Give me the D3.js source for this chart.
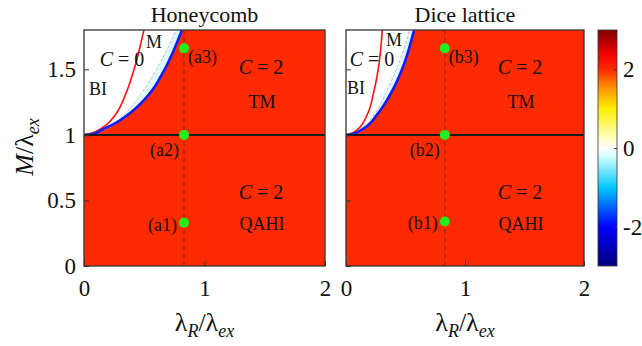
<!DOCTYPE html>
<html>
<head>
<meta charset="utf-8">
<script src="https://cdn.jsdelivr.net/npm/d3@7"></script>
<style>
	body { margin: 0; background: #fff; }
	svg text { font-family: "Liberation Serif", "Times New Roman", serif !important; fill: #111; }
</style>
</head>
<body>
<div id="chart"></div>
<script>
// Phase diagram data (x = lambda_R/lambda_ex, y = M/lambda_ex)
const panelTitles = ["Honeycomb", "Dice lattice"];
const pointTags = [["(a1)", "(a2)", "(a3)"], ["(b1)", "(b2)", "(b3)"]];

// blue phase boundary (C=2 below/right, C=0 above/left)
const honeyBlue = [[0, 1], [0.05, 1.0], [0.15, 1.04], [0.26, 1.09], [0.4, 1.18], [0.536, 1.305], [0.675, 1.51], [0.813, 1.8]];
const diceBlue = [[0, 1], [0.03, 1.0], [0.15, 1.05], [0.26, 1.154], [0.4, 1.356], [0.485, 1.533], [0.572, 1.8]];

// red curve (band gap closing inside the trivial region)
const honeyRed = [[0, 1], [0.05, 1.01], [0.149, 1.053], [0.26, 1.154], [0.343, 1.305], [0.426, 1.533], [0.497, 1.8]];
const diceRed = [[0, 1], [0.04, 1.01], [0.095, 1.04], [0.178, 1.154], [0.234, 1.33], [0.276, 1.533], [0.305, 1.8]];

// grey dashed curve bounding the metallic (M) strip
const honeyGrey = [[0.05, 1.0], [0.2, 1.05], [0.33, 1.15], [0.48, 1.32], [0.62, 1.53], [0.765, 1.8]];
const diceGrey = [[0.03, 1.0], [0.13, 1.05], [0.24, 1.16], [0.36, 1.37], [0.445, 1.55], [0.535, 1.8]];

// Chern numbers of the two phases
const chernTop = 0;
const chernBottom = 2;

// marked points along the dashed cut
const cutX = 0.83;
const honeyPointsY = [0.33, 1.0, 1.66];
const dicePointsY = [0.34, 1.0, 1.66];

const xTicks = [0, 1, 2];
const yTicks = [0, 0.5, 1, 1.5];
const cbarTicks = [-2, 0, 2];

// colormap (jet-like with white at zero)
const cmapStops = [-3, -2, -1, -0.2, 0, 0.2, 1, 1.5, 2, 2.4, 3];
const cmapColors = ["#00007f", "#0000ff", "#00c8ff", "#d9ffff", "#ffffff", "#ffffcc", "#ffee00", "#ff9900", "#ff2a00", "#f00000", "#7f0000"];

const panels = [
	{ blue: honeyBlue, red: honeyRed, grey: honeyGrey, pts: honeyPointsY, x0: 84, x1: 325 },
	{ blue: diceBlue, red: diceRed, grey: diceGrey, pts: dicePointsY, x0: 346, x1: 584 },
];

const width = 642, height = 346;
const plotTop = 30, plotBottom = 266;
const font = `"Liberation Serif", "Times New Roman", serif`;

const svg = d3.select("#chart").append("svg")
	.attr("width", width)
	.attr("height", height)
	.style("font-family", font);

const cmap = d3.scaleLinear().domain(cmapStops).range(cmapColors).clamp(true);

const yScale = d3.scaleLinear().domain([0, 1.8]).range([plotBottom, plotTop]);

// label placements (data units)
const phaseLabels = [
	[
		{ t: "M", x: 0.581, y: 1.664 },
		{ t: "BI", x: 0.116, y: 1.305 },
		{ t: "TM", x: 1.477, y: 1.206 },
		{ t: "QAHI", x: 1.477, y: 0.275 },
	],
	[
		{ t: "M", x: 0.403, y: 1.679 },
		{ t: "BI", x: 0.084, y: 1.313 },
		{ t: "TM", x: 1.47, y: 1.206 },
		{ t: "QAHI", x: 1.47, y: 0.275 },
	],
];
const chernLabels = [
	[{ c: chernTop, x: 0.315, y: 1.527 }, { c: chernBottom, x: 1.469, y: 1.466 }, { c: chernBottom, x: 1.469, y: 0.511 }],
	[{ c: chernTop, x: 0.218, y: 1.527 }, { c: chernBottom, x: 1.462, y: 1.466 }, { c: chernBottom, x: 1.462, y: 0.511 }],
];

panels.forEach((p, i) => {
	const xScale = d3.scaleLinear().domain([0, 2]).range([p.x0, p.x1]);
	const line = d3.line().x((d) => xScale(d[0])).y((d) => yScale(d[1])).curve(d3.curveMonotoneY);
	const g = svg.append("g");

	const clipId = "clip" + i;
	g.append("clipPath").attr("id", clipId)
		.append("rect")
		.attr("x", p.x0).attr("y", plotTop)
		.attr("width", p.x1 - p.x0).attr("height", plotBottom - plotTop);

	const plot = g.append("g").attr("clip-path", `url(#${clipId})`);

	// C = 0 background
	plot.append("rect")
		.attr("x", p.x0).attr("y", plotTop)
		.attr("width", p.x1 - p.x0).attr("height", plotBottom - plotTop)
		.attr("fill", cmap(chernTop));

	// metallic strip: light cyan fading to white
	const gradId = "mgrad" + i;
	const grad = g.append("defs").append("linearGradient").attr("id", gradId)
		.attr("x1", "0%").attr("x2", "100%").attr("y1", "0%").attr("y2", "0%");
	grad.append("stop").attr("offset", "0%").attr("stop-color", "#ffffff");
	grad.append("stop").attr("offset", "100%").attr("stop-color", "#d6f7fb");
	const band = p.grey.concat(p.blue.slice().reverse());
	plot.append("path")
		.attr("d", d3.line().x((d) => xScale(d[0])).y((d) => yScale(d[1]))(band) + "Z")
		.attr("fill", `url(#${gradId})`);

	// C = 2 region (below / right of blue boundary)
	const blueTop = p.blue[p.blue.length - 1];
	const region = [[0, 0]].concat(p.blue, [[2, blueTop[1]], [2, 0]]);
	plot.append("path")
		.attr("d", d3.line().x((d) => xScale(d[0])).y((d) => yScale(d[1]))(region) + "Z")
		.attr("fill", cmap(chernBottom));

	// grey dashed curve in the metallic strip
	plot.append("path")
		.attr("d", line(p.grey))
		.attr("fill", "none")
		.attr("stroke", "#b8b8b8")
		.attr("stroke-width", 0.9)
		.attr("stroke-dasharray", "3,2");

	plot.append("path")
		.attr("d", line(p.red))
		.attr("fill", "none")
		.attr("stroke", "#ff1010")
		.attr("stroke-width", 1.6);

	plot.append("path")
		.attr("d", line(p.blue))
		.attr("fill", "none")
		.attr("stroke", "#0a1eff")
		.attr("stroke-width", 2.6);

	// horizontal line M = lambda_ex
	plot.append("line")
		.attr("x1", xScale(0)).attr("x2", xScale(2))
		.attr("y1", yScale(1)).attr("y2", yScale(1))
		.attr("stroke", "#1a1a1a")
		.attr("stroke-width", 2);

	// dashed cut
	plot.append("line")
		.attr("x1", xScale(cutX)).attr("x2", xScale(cutX))
		.attr("y1", yScale(0)).attr("y2", yScale(1.8))
		.attr("stroke", "#8a2a1a")
		.attr("stroke-width", 1.1)
		.attr("stroke-dasharray", "5,3");

	// green markers
	g.selectAll("circle.pt")
		.data(p.pts)
		.join("circle")
		.attr("class", "pt")
		.attr("cx", xScale(cutX))
		.attr("cy", (d) => yScale(d))
		.attr("r", 5)
		.attr("fill", "#1ef01e");

	// marker tags: (x1) left, (x2) below-left, (x3) right
	const tagPos = [
		{ dx: -7, dy: 8, anchor: "end" },
		{ dx: -5, dy: 21, anchor: "end" },
		{ dx: 4, dy: 15, anchor: "start" },
	];
	g.selectAll("text.tag")
		.data(p.pts)
		.join("text")
		.attr("class", "tag")
		.attr("x", xScale(cutX))
		.attr("y", (d) => yScale(d))
		.attr("dx", (d, k) => tagPos[k].dx)
		.attr("dy", (d, k) => tagPos[k].dy)
		.attr("text-anchor", (d, k) => tagPos[k].anchor)
		.style("font-size", "18px")
		.text((d, k) => pointTags[i][k]);

	// phase labels
	g.selectAll("text.phase")
		.data(phaseLabels[i])
		.join("text")
		.attr("class", "phase")
		.attr("x", (d) => xScale(d.x))
		.attr("y", (d) => yScale(d.y))
		.attr("text-anchor", "middle")
		.style("font-size", "18px")
		.text((d) => d.t);

	const cl = g.selectAll("text.chern")
		.data(chernLabels[i])
		.join("text")
		.attr("class", "chern")
		.attr("x", (d) => xScale(d.x))
		.attr("y", (d) => yScale(d.y))
		.attr("text-anchor", "middle")
		.style("font-size", "20px");
	cl.append("tspan").style("font-style", "italic").text("C");
	cl.append("tspan").text((d) => " = " + d.c);

	// axes with inward ticks
	const xAxis = g.append("g")
		.attr("transform", `translate(0,${plotBottom})`)
		.call(d3.axisBottom(xScale).tickValues(xTicks).tickSize(-5).tickPadding(14).tickFormat(d3.format("d")));
	xAxis.select(".domain").remove();
	xAxis.attr("font-family", null).attr("font-size", null);
	xAxis.selectAll("text").style("font-size", "23px").attr("fill", "#111");
	xAxis.selectAll("line").attr("stroke", "#333");

	const yAxis = g.append("g")
		.attr("transform", `translate(${p.x0},0)`)
		.call(d3.axisLeft(yScale).tickValues(yTicks).tickSize(-5).tickPadding(8).tickFormat((d) => String(d)));
	yAxis.select(".domain").remove();
	yAxis.attr("font-family", null).attr("font-size", null);
	yAxis.selectAll("line").attr("stroke", "#333");
	if (i === 0) {
		yAxis.selectAll("text").style("font-size", "23px").attr("fill", "#111");
	} else {
		yAxis.selectAll("text").remove();
	}

	// frame
	g.append("rect")
		.attr("x", p.x0).attr("y", plotTop)
		.attr("width", p.x1 - p.x0).attr("height", plotBottom - plotTop)
		.attr("fill", "none")
		.attr("stroke", "#333")
		.attr("stroke-width", 1.3);

	// title
	g.append("text")
		.attr("x", (p.x0 + p.x1) / 2)
		.attr("y", 22)
		.attr("text-anchor", "middle")
		.style("font-size", "22px")
		.text(panelTitles[i]);

	// x label  lambda_R / lambda_ex
	const xl = g.append("text")
		.attr("x", (p.x0 + p.x1) / 2)
		.attr("y", 331)
		.attr("text-anchor", "middle")
		.style("font-size", "26px");
	xl.append("tspan").text("λ");
	xl.append("tspan").attr("dy", 6).style("font-size", "18px").style("font-style", "italic").text("R");
	xl.append("tspan").attr("dy", -6).text("/λ");
	xl.append("tspan").attr("dy", 6).style("font-size", "18px").style("font-style", "italic").text("ex");
});

// y label  M / lambda_ex
const yl = svg.append("text")
	.attr("transform", `translate(33,${(plotTop + plotBottom) / 2 - 1}) rotate(-90)`)
	.attr("text-anchor", "middle")
	.style("font-size", "26px");
yl.append("tspan").style("font-style", "italic").text("M");
yl.append("tspan").text("/λ");
yl.append("tspan").attr("dy", 6).style("font-size", "18px").style("font-style", "italic").text("ex");

// colorbar
const cbX = 598, cbW = 19;
const cbScale = d3.scaleLinear().domain([-3, 3]).range([plotBottom, plotTop]);
const cgrad = svg.append("defs").append("linearGradient").attr("id", "cbar")
	.attr("x1", "0%").attr("x2", "0%").attr("y1", "100%").attr("y2", "0%");
cgrad.selectAll("stop")
	.data(d3.range(0, 61))
	.join("stop")
	.attr("offset", (d) => (d / 60) * 100 + "%")
	.attr("stop-color", (d) => cmap(-3 + d / 10));
svg.append("rect")
	.attr("x", cbX).attr("y", plotTop)
	.attr("width", cbW).attr("height", plotBottom - plotTop)
	.attr("fill", "url(#cbar)")
	.attr("stroke", "#333")
	.attr("stroke-width", 0.8);

const cbAxis = svg.append("g")
	.attr("transform", `translate(${cbX + cbW},0)`)
	.call(d3.axisRight(cbScale).tickValues(cbarTicks).tickSize(-3).tickPadding(6).tickFormat((d) => String(d)));
cbAxis.select(".domain").remove();
cbAxis.attr("font-family", null).attr("font-size", null);
cbAxis.selectAll("line").attr("stroke", "#333");
cbAxis.selectAll("text").style("font-size", "23px").attr("fill", "#111");
</script>
</body>
</html>
